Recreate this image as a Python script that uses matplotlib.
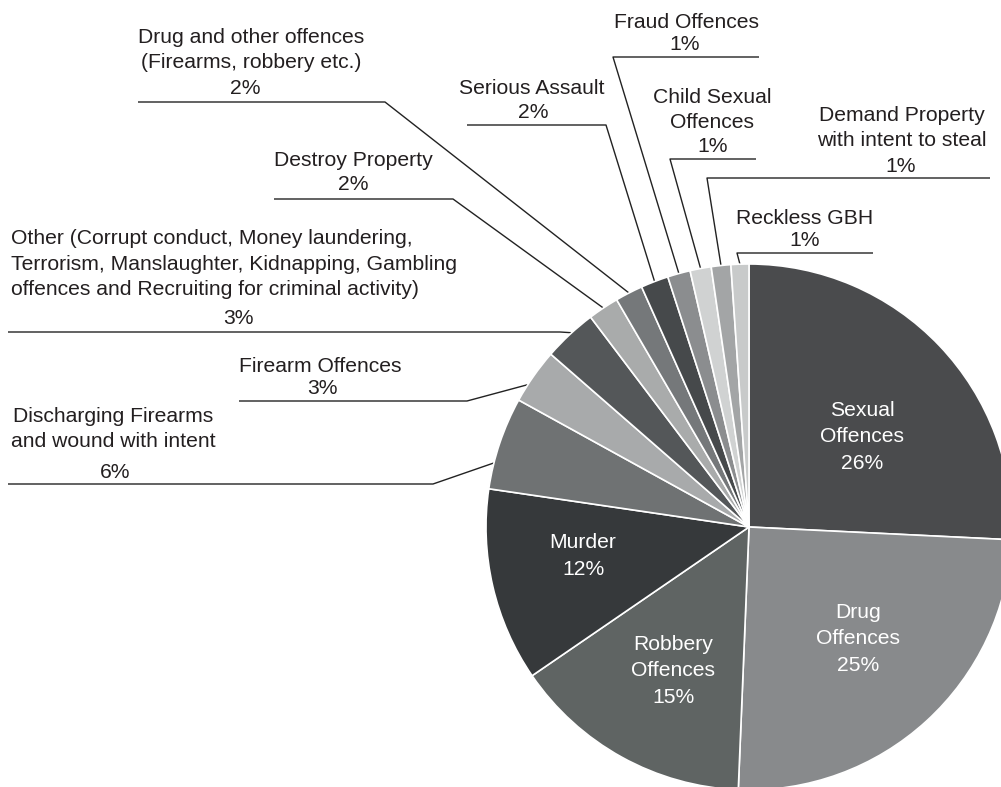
import numpy as np
import matplotlib.pyplot as plt

plt.rcParams['font.family'] = ['Liberation Sans', 'DejaVu Sans']

W, H = 1001, 787

# slices, clockwise from 12 o'clock
names = ['Sexual\nOffences', 'Drug\nOffences', 'Robbery\nOffences', 'Murder',
         'Discharging Firearms\nand wound with intent', 'Firearm Offences',
         'Other (Corrupt conduct, Money laundering,\nTerrorism, Manslaughter, Kidnapping, Gambling\n'
         'offences and Recruiting for criminal activity)',
         'Destroy Property', 'Drug and other offences\n(Firearms, robbery etc.)',
         'Serious Assault', 'Fraud Offences', 'Child Sexual\nOffences',
         'Demand Property\nwith intent to steal', 'Reckless GBH']
shares = [25.8, 24.9, 14.8, 11.9, 5.7, 3.4, 3.3, 1.9, 1.7, 1.7, 1.4, 1.3, 1.2, 1.1]
colors = ['#4a4b4d', '#888a8c', '#5f6463', '#36393b', '#6f7273', '#a8aaab', '#545759',
          '#a9abab', '#75787a', '#46494b', '#8b8d8f', '#d0d2d2', '#a3a5a6', '#c8caca']

TXT = '#231f20'
FS = 15.2

def Y(y):
    return H - y

fig = plt.figure(figsize=(W / 100, H / 100), dpi=100)
ax = fig.add_axes([0, 0, 1, 1])

cx, cy, r = 749, Y(527), 263
wedges, _ = ax.pie(shares, colors=colors, startangle=90, counterclock=False,
                   center=(cx, cy), radius=r, frame=True,
                   wedgeprops=dict(edgecolor='white', linewidth=1.2))
ax.set_xlim(0, W)
ax.set_ylim(0, H)
ax.set_aspect('equal')
ax.axis('off')

# labels inside the big slices (pixel positions)
inner = {0: (862, 437), 1: (858, 639), 2: (673, 671), 3: (583, 556)}
for i, (x, y) in inner.items():
    ax.text(x, Y(y), names[i] + '\n' + f'{shares[i]:.0f}%', color='white', fontsize=FS,
            ha='center', va='center', linespacing=1.48)

# outer labels: name x, name centre y, pct x, pct y, underline x0, x1, y, joined end, anchor pos in slice
outer = {
    4: (113, 429, 115, 472, 8, 433, 484, 'r', 0.72),
    5: (320, 367, 322, 388, 239, 467, 401, 'r', 0.68),
    6: (11, 264, 238, 319, 8, 560, 332, 'r', 0.45),
    7: (353, 160, 353, 185, 274, 453, 199, 'r', 0.5),
    8: (251, 50, 245, 89, 138, 385, 102, 'r', 0.5),
    9: (532, 89, 533, 113, 467, 606, 125, 'r', 0.5),
    10: (686, 22, 685, 45, 613, 759, 57, 'l', 0.5),
    11: (712, 110, 713, 147, 670, 756, 159, 'l', 0.5),
    12: (902, 128, 901, 167, 707, 990, 178, 'l', 0.5),
    13: (805, 218, 805, 240, 737, 873, 253, 'l', 0.5),
}
for i, (nx, ny, px, pyy, x0, x1, uy, side, t) in outer.items():
    w = wedges[i]
    ang = np.radians(w.theta1 + t * (w.theta2 - w.theta1))
    ex, ey = cx + r * np.cos(ang), cy + r * np.sin(ang)
    if side == 'r':
        xs, ys = [x0, x1, ex], [Y(uy), Y(uy), ey]
    else:
        xs, ys = [x1, x0, ex], [Y(uy), Y(uy), ey]
    ax.plot(xs, ys, color='#222222', lw=1.0, solid_capstyle='butt', zorder=0)
    ha = 'left' if i == 6 else 'center'
    ax.text(nx, Y(ny), names[i], color=TXT, fontsize=FS, ha=ha, va='center',
            multialignment=ha, linespacing=1.45)
    ax.text(px, Y(pyy), f'{shares[i]:.0f}%', color=TXT, fontsize=FS, ha='center', va='center')

fig.savefig('out.png', dpi=100)
